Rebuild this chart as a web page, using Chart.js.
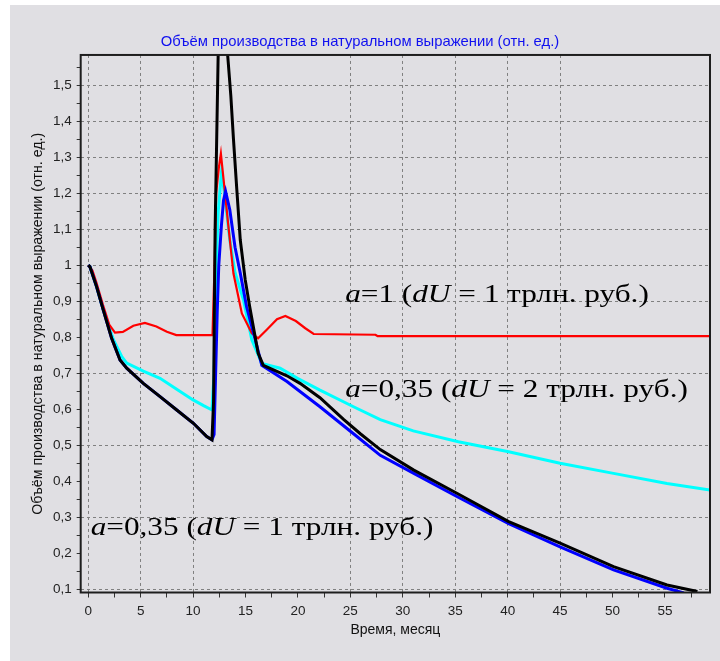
<!DOCTYPE html>
<html lang="ru">
<head>
<meta charset="utf-8">
<title>Объём производства</title>
<script src="https://cdn.jsdelivr.net/npm/chart.js"></script>
<style>
  html, body { margin: 0; padding: 0; background: #fff; }
  #panel {
    position: absolute; left: 10px; top: 5px;
    width: 710px; height: 656px;
    background: #e0dfe3;
  }
</style>
</head>
<body>
<div id="panel"><canvas id="prod-chart" width="710" height="656"></canvas></div>
<script>
// Объём производства после шока: время (мес.) и значения (отн. ед.)
const redT = [0, 0.4, 0.8, 1.4, 2.0, 2.55, 3.3, 4.3, 5.4, 6.5, 7.5, 8.4, 11.85, 12.05, 12.2, 12.45, 12.65, 12.9, 13.37, 13.85, 14.65, 15.6, 16.2, 17.0, 18.0, 18.8, 19.8, 20.7, 21.5, 27.4, 27.6, 59.3];
const redV = [1.0, 0.985, 0.95, 0.89, 0.835, 0.813, 0.815, 0.832, 0.84, 0.83, 0.815, 0.806, 0.806, 1.0, 1.2, 1.27, 1.31, 1.24, 1.107, 0.977, 0.866, 0.811, 0.797, 0.82, 0.85, 0.859, 0.845, 0.825, 0.809, 0.807, 0.803, 0.803];

const cyanT = [0, 0.16, 0.8, 1.43, 2.4, 3.2, 3.67, 5.25, 6.85, 8.4, 10.0, 11.0, 11.8, 12.0, 12.2, 12.4, 12.7, 13.0, 13.5, 14.0, 14.8, 15.6, 16.55, 18.3, 20.0, 22.1, 25.3, 27.85, 31.0, 35.3, 40.1, 45, 50.1, 55.2, 59.3];
const cyanV = [1.0, 0.996, 0.94, 0.876, 0.793, 0.746, 0.728, 0.706, 0.686, 0.656, 0.626, 0.61, 0.598, 0.7, 1.0, 1.15, 1.256, 1.2, 1.07, 0.98, 0.904, 0.793, 0.727, 0.714, 0.685, 0.653, 0.607, 0.571, 0.54, 0.51, 0.482, 0.45, 0.422, 0.394, 0.376];

const blueT = [0, 0.16, 0.8, 1.43, 2.23, 3.03, 3.67, 5.25, 6.85, 8.44, 10.03, 11.3, 11.8, 12.0, 12.3, 12.45, 12.7, 12.9, 13.1, 13.5, 14.0, 14.5, 15.1, 16.1, 16.55, 18.95, 22.1, 25.3, 27.85, 31.05, 35.2, 40.1, 45, 50.1, 55.2, 56.8];
const blueV = [1.0, 0.996, 0.94, 0.876, 0.797, 0.737, 0.714, 0.672, 0.635, 0.598, 0.561, 0.524, 0.515, 0.53, 0.87, 1.0, 1.11, 1.18, 1.205, 1.154, 1.05, 0.978, 0.885, 0.774, 0.722, 0.677, 0.607, 0.532, 0.472, 0.422, 0.357, 0.282, 0.218, 0.154, 0.103, 0.09];

const blackT = [0, 0.16, 0.8, 1.43, 2.23, 3.03, 3.67, 5.25, 6.85, 8.44, 10.03, 11.3, 11.8, 11.95, 12.1, 12.4, 12.8, 13.2, 13.6, 13.85, 14.17, 14.5, 14.97, 15.4, 16.2, 16.7, 18.95, 20.2, 22.1, 24.35, 25.95, 27.85, 31.05, 35.2, 40.1, 45, 50.1, 55.2, 58.1];
const blackV = [1.0, 0.996, 0.94, 0.876, 0.797, 0.737, 0.714, 0.672, 0.635, 0.598, 0.561, 0.524, 0.515, 0.62, 1.1, 1.6, 1.8, 1.62, 1.47, 1.35, 1.21, 1.07, 0.96, 0.885, 0.756, 0.722, 0.693, 0.672, 0.632, 0.572, 0.532, 0.488, 0.431, 0.366, 0.288, 0.228, 0.163, 0.112, 0.094];

// пунктирная сетка только на этих отметках
const xGrid = [0, 5, 10, 25, 30, 35, 40, 45];
const yGrid = [0.1, 0.3, 0.5, 0.7, 0.9, 1.0, 1.1, 1.2, 1.3, 1.4, 1.5];

// подписи кривых: текст и точка привязки (мес., отн. ед.)
const noteParts = [
  [["a", true], ["=1 (", false], ["dU", true], [" = 1 трлн. руб.)", false]],
  [["a", true], ["=0,35 (", false], ["dU", true], [" = 2 трлн. руб.)", false]],
  [["a", true], ["=0,35 (", false], ["dU", true], [" = 1 трлн. руб.)", false]]
];
const noteX = [24.5, 24.5, 0.23];
const noteY = [0.899, 0.635, 0.251];

const pts = (t, v) => t.map((x, i) => ({ x, y: v[i] }));
const has = (arr, val) => arr.some(g => Math.abs(g - val) < 1e-6);

// рамка вокруг области графика и подписи кривых
const framePlugin = {
  id: "frame",
  afterDatasetsDraw(chart) {
    const { ctx, chartArea: a, scales } = chart;
    ctx.save();
    ctx.lineWidth = 2;
    ctx.strokeStyle = "#1e1e1e";
    ctx.strokeRect(a.left, a.top, a.right - a.left, a.bottom - a.top);

    ctx.fillStyle = "#000";
    ctx.textBaseline = "alphabetic";
    noteParts.forEach((parts, n) => {
      const px = scales.x.getPixelForValue(noteX[n]);
      const py = scales.y.getPixelForValue(noteY[n]);
      ctx.save();
      ctx.translate(px, py);
      ctx.scale(1.25, 1);
      let cx = 0;
      parts.forEach(([txt, it]) => {
        ctx.font = (it ? "italic " : "") + "25px 'Liberation Serif', 'Times New Roman', serif";
        ctx.fillText(txt, cx, 0);
        cx += ctx.measureText(txt).width;
      });
      ctx.restore();
    });
    ctx.restore();
  }
};

const tickFont = { family: "'Liberation Sans', Arial, sans-serif", size: 13.5 };

new Chart(document.getElementById("prod-chart"), {
  type: "line",
  data: {
    datasets: [
      { label: "black", data: pts(blackT, blackV), borderColor: "#000000", borderWidth: 3 },
      { label: "blue", data: pts(blueT, blueV), borderColor: "#0000ff", borderWidth: 3 },
      { label: "red", data: pts(redT, redV), borderColor: "#ff0000", borderWidth: 2.2 },
      { label: "cyan", data: pts(cyanT, cyanV), borderColor: "#00ffff", borderWidth: 3 }
    ]
  },
  options: {
    responsive: false,
    animation: false,
    parsing: false,
    layout: { padding: { left: 0, right: 10, top: 0, bottom: 0 } },
    elements: { point: { radius: 0 }, line: { tension: 0, borderJoinStyle: "miter" } },
    plugins: {
      legend: { display: false },
      tooltip: { enabled: false },
      title: {
        display: true,
        text: "Объём производства в натуральном выражении (отн. ед.)",
        color: "#1010f0",
        font: { family: "'Liberation Sans', Arial, sans-serif", size: 14.8, weight: "normal" },
        padding: { top: 28, bottom: 4.2 }
      }
    },
    scales: {
      x: {
        type: "linear",
        min: -0.72,
        max: 59.3,
        afterFit(scale) { scale.height = 68.5; },
        border: { display: false, dash: [3, 3] },
        grid: {
          color: c => (c.tick && has(xGrid, c.tick.value)) ? "#808080" : "rgba(0,0,0,0)",
          tickColor: "#333",
          tickLength: 5,
          lineWidth: 1
        },
        ticks: {
          stepSize: 2.5,
          autoSkip: false,
          maxRotation: 0,
          includeBounds: false,
          padding: 6,
          color: "#222",
          font: tickFont,
          callback: v => (Math.round(v * 10) % 50 === 0) ? String(v) : ""
        },
        title: {
          display: true,
          text: "Время, месяц",
          color: "#111",
          font: { family: "'Liberation Sans', Arial, sans-serif", size: 14 },
          padding: { top: 0, bottom: 22.6 }
        }
      },
      y: {
        min: 0.0911,
        max: 1.584,
        afterFit(scale) { scale.width = 70.7; },
        border: { display: false, dash: [3, 3] },
        grid: {
          color: c => (c.tick && has(yGrid, c.tick.value)) ? "#808080" : "rgba(0,0,0,0)",
          tickColor: "#333",
          tickLength: 4,
          lineWidth: 1
        },
        ticks: {
          stepSize: 0.05,
          autoSkip: false,
          includeBounds: false,
          padding: 5,
          color: "#222",
          font: tickFont,
          callback: v => {
            const k = Math.round(v * 100);
            if (k % 10 !== 0) return "";
            return k === 100 ? "1" : (k / 100).toFixed(1).replace(".", ",");
          }
        },
        title: {
          display: true,
          text: "Объём производства в натуральном выражении (отн. ед.)",
          color: "#111",
          font: { family: "'Liberation Sans', Arial, sans-serif", size: 14.2 },
          padding: { top: 19.5, bottom: 0 }
        }
      }
    }
  },
  plugins: [framePlugin]
});
</script>
</body>
</html>
